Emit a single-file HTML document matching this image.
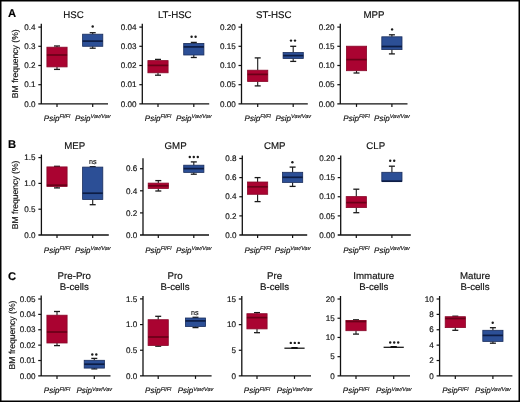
<!DOCTYPE html>
<html><head><meta charset="utf-8"><style>
html,body{margin:0;padding:0;background:#fff;}
#fig{position:relative;width:520px;height:402px;overflow:hidden;background:#fff;}
svg{position:absolute;left:0;top:0;will-change:transform;text-rendering:geometricPrecision;font-family:"Liberation Sans",sans-serif;}
text{stroke:#111;stroke-width:0.16px;}
</style></head><body><div id="fig">
<svg width="520" height="402" viewBox="0 0 520 402">
<rect x="0" y="0" width="520" height="402" fill="#fff"/>
<line x1="41.3" y1="23.8" x2="41.3" y2="103.9" stroke="#111" stroke-width="1.3"/>
<line x1="38.3" y1="103.9" x2="108" y2="103.9" stroke="#111" stroke-width="1.3"/>
<text x="35.5" y="106.6" font-size="8.1" text-anchor="end" fill="#111111">0.0</text>
<line x1="38.3" y1="84.7" x2="41.3" y2="84.7" stroke="#111" stroke-width="1.2"/>
<text x="35.5" y="87.4" font-size="8.1" text-anchor="end" fill="#111111">0.1</text>
<line x1="38.3" y1="65.5" x2="41.3" y2="65.5" stroke="#111" stroke-width="1.2"/>
<text x="35.5" y="68.2" font-size="8.1" text-anchor="end" fill="#111111">0.2</text>
<line x1="38.3" y1="46.3" x2="41.3" y2="46.3" stroke="#111" stroke-width="1.2"/>
<text x="35.5" y="49" font-size="8.1" text-anchor="end" fill="#111111">0.3</text>
<line x1="38.3" y1="27.1" x2="41.3" y2="27.1" stroke="#111" stroke-width="1.2"/>
<text x="35.5" y="29.8" font-size="8.1" text-anchor="end" fill="#111111">0.4</text>
<line x1="57" y1="103.9" x2="57" y2="106.9" stroke="#111" stroke-width="1.2"/>
<line x1="92.7" y1="103.9" x2="92.7" y2="106.9" stroke="#111" stroke-width="1.2"/>
<line x1="57" y1="46" x2="57" y2="47.2" stroke="#1a1a1a" stroke-width="1.1"/>
<line x1="54" y1="46" x2="60" y2="46" stroke="#1a1a1a" stroke-width="1.3"/>
<line x1="57" y1="66.9" x2="57" y2="69.4" stroke="#1a1a1a" stroke-width="1.1"/>
<line x1="54" y1="69.4" x2="60" y2="69.4" stroke="#1a1a1a" stroke-width="1.3"/>
<rect x="46.9" y="47.2" width="20.2" height="19.7" fill="#aa0331" stroke="#880828" stroke-width="0.8"/>
<line x1="46.9" y1="55" x2="67.1" y2="55" stroke="#6a0018" stroke-width="1.7"/>
<line x1="92.7" y1="32.7" x2="92.7" y2="34.2" stroke="#1a1a1a" stroke-width="1.1"/>
<line x1="89.7" y1="32.7" x2="95.7" y2="32.7" stroke="#1a1a1a" stroke-width="1.3"/>
<line x1="92.7" y1="46.3" x2="92.7" y2="48.2" stroke="#1a1a1a" stroke-width="1.1"/>
<line x1="89.7" y1="48.2" x2="95.7" y2="48.2" stroke="#1a1a1a" stroke-width="1.3"/>
<rect x="82.6" y="34.2" width="20.2" height="12.1" fill="#2c4f96" stroke="#1a2d5c" stroke-width="0.8"/>
<line x1="82.6" y1="41.1" x2="102.8" y2="41.1" stroke="#0d1d45" stroke-width="1.7"/>
<circle cx="92.7" cy="26.5" r="1.2" fill="#1a1a1a"/>
<text x="73.6" y="18.4" font-size="9.7" text-anchor="middle" fill="#111111">HSC</text>
<text x="57" y="121" font-size="8.0" font-style="italic" text-anchor="middle" fill="#111111">Psip<tspan font-size="5.5" dy="-2.6">Fl/Fl</tspan></text>
<text x="92.7" y="121" font-size="8.0" font-style="italic" text-anchor="middle" fill="#111111">Psip<tspan font-size="5.5" dy="-2.6">Vav/Vav</tspan></text>
<line x1="142.3" y1="23.8" x2="142.3" y2="103.9" stroke="#111" stroke-width="1.3"/>
<line x1="139.3" y1="103.9" x2="209.2" y2="103.9" stroke="#111" stroke-width="1.3"/>
<text x="136.5" y="106.6" font-size="8.1" text-anchor="end" fill="#111111">0.00</text>
<line x1="139.3" y1="84.7" x2="142.3" y2="84.7" stroke="#111" stroke-width="1.2"/>
<text x="136.5" y="87.4" font-size="8.1" text-anchor="end" fill="#111111">0.01</text>
<line x1="139.3" y1="65.5" x2="142.3" y2="65.5" stroke="#111" stroke-width="1.2"/>
<text x="136.5" y="68.2" font-size="8.1" text-anchor="end" fill="#111111">0.02</text>
<line x1="139.3" y1="46.3" x2="142.3" y2="46.3" stroke="#111" stroke-width="1.2"/>
<text x="136.5" y="49" font-size="8.1" text-anchor="end" fill="#111111">0.03</text>
<line x1="139.3" y1="27.1" x2="142.3" y2="27.1" stroke="#111" stroke-width="1.2"/>
<text x="136.5" y="29.8" font-size="8.1" text-anchor="end" fill="#111111">0.04</text>
<line x1="158" y1="103.9" x2="158" y2="106.9" stroke="#111" stroke-width="1.2"/>
<line x1="193.8" y1="103.9" x2="193.8" y2="106.9" stroke="#111" stroke-width="1.2"/>
<line x1="158" y1="59.4" x2="158" y2="60.6" stroke="#1a1a1a" stroke-width="1.1"/>
<line x1="155" y1="59.4" x2="161" y2="59.4" stroke="#1a1a1a" stroke-width="1.3"/>
<line x1="158" y1="72.8" x2="158" y2="75.2" stroke="#1a1a1a" stroke-width="1.1"/>
<line x1="155" y1="75.2" x2="161" y2="75.2" stroke="#1a1a1a" stroke-width="1.3"/>
<rect x="147.9" y="60.6" width="20.2" height="12.2" fill="#aa0331" stroke="#880828" stroke-width="0.8"/>
<line x1="147.9" y1="65.4" x2="168.1" y2="65.4" stroke="#6a0018" stroke-width="1.7"/>
<line x1="193.8" y1="42.4" x2="193.8" y2="43.4" stroke="#1a1a1a" stroke-width="1.1"/>
<line x1="190.8" y1="42.4" x2="196.8" y2="42.4" stroke="#1a1a1a" stroke-width="1.3"/>
<line x1="193.8" y1="55" x2="193.8" y2="57.5" stroke="#1a1a1a" stroke-width="1.1"/>
<line x1="190.8" y1="57.5" x2="196.8" y2="57.5" stroke="#1a1a1a" stroke-width="1.3"/>
<rect x="183.7" y="43.4" width="20.2" height="11.6" fill="#2c4f96" stroke="#1a2d5c" stroke-width="0.8"/>
<line x1="183.7" y1="46.9" x2="203.9" y2="46.9" stroke="#0d1d45" stroke-width="1.7"/>
<circle cx="191.6" cy="36.8" r="1.2" fill="#1a1a1a"/>
<circle cx="195.6" cy="36.8" r="1.2" fill="#1a1a1a"/>
<text x="174.75" y="18.4" font-size="9.7" text-anchor="middle" fill="#111111">LT-HSC</text>
<text x="158" y="121" font-size="8.0" font-style="italic" text-anchor="middle" fill="#111111">Psip<tspan font-size="5.5" dy="-2.6">Fl/Fl</tspan></text>
<text x="193.8" y="121" font-size="8.0" font-style="italic" text-anchor="middle" fill="#111111">Psip<tspan font-size="5.5" dy="-2.6">Vav/Vav</tspan></text>
<line x1="241.5" y1="23.8" x2="241.5" y2="103.9" stroke="#111" stroke-width="1.3"/>
<line x1="238.5" y1="103.9" x2="307.8" y2="103.9" stroke="#111" stroke-width="1.3"/>
<text x="235.7" y="106.6" font-size="8.1" text-anchor="end" fill="#111111">0.00</text>
<line x1="238.5" y1="84.7" x2="241.5" y2="84.7" stroke="#111" stroke-width="1.2"/>
<text x="235.7" y="87.4" font-size="8.1" text-anchor="end" fill="#111111">0.05</text>
<line x1="238.5" y1="65.5" x2="241.5" y2="65.5" stroke="#111" stroke-width="1.2"/>
<text x="235.7" y="68.2" font-size="8.1" text-anchor="end" fill="#111111">0.10</text>
<line x1="238.5" y1="46.3" x2="241.5" y2="46.3" stroke="#111" stroke-width="1.2"/>
<text x="235.7" y="49" font-size="8.1" text-anchor="end" fill="#111111">0.15</text>
<line x1="238.5" y1="27.1" x2="241.5" y2="27.1" stroke="#111" stroke-width="1.2"/>
<text x="235.7" y="29.8" font-size="8.1" text-anchor="end" fill="#111111">0.20</text>
<line x1="257.7" y1="103.9" x2="257.7" y2="106.9" stroke="#111" stroke-width="1.2"/>
<line x1="293.2" y1="103.9" x2="293.2" y2="106.9" stroke="#111" stroke-width="1.2"/>
<line x1="257.7" y1="57.9" x2="257.7" y2="70.2" stroke="#1a1a1a" stroke-width="1.1"/>
<line x1="254.7" y1="57.9" x2="260.7" y2="57.9" stroke="#1a1a1a" stroke-width="1.3"/>
<line x1="257.7" y1="81.5" x2="257.7" y2="85.9" stroke="#1a1a1a" stroke-width="1.1"/>
<line x1="254.7" y1="85.9" x2="260.7" y2="85.9" stroke="#1a1a1a" stroke-width="1.3"/>
<rect x="247.6" y="70.2" width="20.2" height="11.3" fill="#aa0331" stroke="#880828" stroke-width="0.8"/>
<line x1="247.6" y1="74.4" x2="267.8" y2="74.4" stroke="#6a0018" stroke-width="1.7"/>
<line x1="293.2" y1="46.3" x2="293.2" y2="52.5" stroke="#1a1a1a" stroke-width="1.1"/>
<line x1="290.2" y1="46.3" x2="296.2" y2="46.3" stroke="#1a1a1a" stroke-width="1.3"/>
<line x1="293.2" y1="58.5" x2="293.2" y2="61.4" stroke="#1a1a1a" stroke-width="1.1"/>
<line x1="290.2" y1="61.4" x2="296.2" y2="61.4" stroke="#1a1a1a" stroke-width="1.3"/>
<rect x="283.1" y="52.5" width="20.2" height="6" fill="#2c4f96" stroke="#1a2d5c" stroke-width="0.8"/>
<line x1="283.1" y1="55.6" x2="303.3" y2="55.6" stroke="#0d1d45" stroke-width="1.7"/>
<circle cx="291" cy="40.6" r="1.2" fill="#1a1a1a"/>
<circle cx="295" cy="40.6" r="1.2" fill="#1a1a1a"/>
<text x="273.75" y="18.4" font-size="9.7" text-anchor="middle" fill="#111111">ST-HSC</text>
<text x="257.7" y="121" font-size="8.0" font-style="italic" text-anchor="middle" fill="#111111">Psip<tspan font-size="5.5" dy="-2.6">Fl/Fl</tspan></text>
<text x="293.2" y="121" font-size="8.0" font-style="italic" text-anchor="middle" fill="#111111">Psip<tspan font-size="5.5" dy="-2.6">Vav/Vav</tspan></text>
<line x1="340.3" y1="23.8" x2="340.3" y2="103.9" stroke="#111" stroke-width="1.3"/>
<line x1="337.3" y1="103.9" x2="407.5" y2="103.9" stroke="#111" stroke-width="1.3"/>
<text x="334.5" y="106.6" font-size="8.1" text-anchor="end" fill="#111111">0.00</text>
<line x1="337.3" y1="84.7" x2="340.3" y2="84.7" stroke="#111" stroke-width="1.2"/>
<text x="334.5" y="87.4" font-size="8.1" text-anchor="end" fill="#111111">0.05</text>
<line x1="337.3" y1="65.5" x2="340.3" y2="65.5" stroke="#111" stroke-width="1.2"/>
<text x="334.5" y="68.2" font-size="8.1" text-anchor="end" fill="#111111">0.10</text>
<line x1="337.3" y1="46.3" x2="340.3" y2="46.3" stroke="#111" stroke-width="1.2"/>
<text x="334.5" y="49" font-size="8.1" text-anchor="end" fill="#111111">0.15</text>
<line x1="337.3" y1="27.1" x2="340.3" y2="27.1" stroke="#111" stroke-width="1.2"/>
<text x="334.5" y="29.8" font-size="8.1" text-anchor="end" fill="#111111">0.20</text>
<line x1="356.5" y1="103.9" x2="356.5" y2="106.9" stroke="#111" stroke-width="1.2"/>
<line x1="391.9" y1="103.9" x2="391.9" y2="106.9" stroke="#111" stroke-width="1.2"/>
<line x1="356.5" y1="70.7" x2="356.5" y2="73" stroke="#1a1a1a" stroke-width="1.1"/>
<line x1="353.5" y1="73" x2="359.5" y2="73" stroke="#1a1a1a" stroke-width="1.3"/>
<rect x="346.4" y="46.2" width="20.2" height="24.5" fill="#aa0331" stroke="#880828" stroke-width="0.8"/>
<line x1="346.4" y1="59.6" x2="366.6" y2="59.6" stroke="#6a0018" stroke-width="1.7"/>
<line x1="391.9" y1="34.8" x2="391.9" y2="36.8" stroke="#1a1a1a" stroke-width="1.1"/>
<line x1="388.9" y1="34.8" x2="394.9" y2="34.8" stroke="#1a1a1a" stroke-width="1.3"/>
<line x1="391.9" y1="49.6" x2="391.9" y2="53.9" stroke="#1a1a1a" stroke-width="1.1"/>
<line x1="388.9" y1="53.9" x2="394.9" y2="53.9" stroke="#1a1a1a" stroke-width="1.3"/>
<rect x="381.8" y="36.8" width="20.2" height="12.8" fill="#2c4f96" stroke="#1a2d5c" stroke-width="0.8"/>
<line x1="381.8" y1="46.5" x2="402" y2="46.5" stroke="#0d1d45" stroke-width="1.7"/>
<circle cx="392.1" cy="29.4" r="1.2" fill="#1a1a1a"/>
<text x="374" y="18.4" font-size="9.7" text-anchor="middle" fill="#111111">MPP</text>
<text x="356.5" y="121" font-size="8.0" font-style="italic" text-anchor="middle" fill="#111111">Psip<tspan font-size="5.5" dy="-2.6">Fl/Fl</tspan></text>
<text x="391.9" y="121" font-size="8.0" font-style="italic" text-anchor="middle" fill="#111111">Psip<tspan font-size="5.5" dy="-2.6">Vav/Vav</tspan></text>
<line x1="41.4" y1="154.6" x2="41.4" y2="235" stroke="#111" stroke-width="1.3"/>
<line x1="38.4" y1="235" x2="108.8" y2="235" stroke="#111" stroke-width="1.3"/>
<text x="35.6" y="237.7" font-size="8.1" text-anchor="end" fill="#111111">0.0</text>
<line x1="38.4" y1="209.2" x2="41.4" y2="209.2" stroke="#111" stroke-width="1.2"/>
<text x="35.6" y="211.9" font-size="8.1" text-anchor="end" fill="#111111">0.5</text>
<line x1="38.4" y1="183.4" x2="41.4" y2="183.4" stroke="#111" stroke-width="1.2"/>
<text x="35.6" y="186.1" font-size="8.1" text-anchor="end" fill="#111111">1.0</text>
<line x1="38.4" y1="157.6" x2="41.4" y2="157.6" stroke="#111" stroke-width="1.2"/>
<text x="35.6" y="160.3" font-size="8.1" text-anchor="end" fill="#111111">1.5</text>
<line x1="57" y1="235" x2="57" y2="238" stroke="#111" stroke-width="1.2"/>
<line x1="92.7" y1="235" x2="92.7" y2="238" stroke="#111" stroke-width="1.2"/>
<line x1="57" y1="166.3" x2="57" y2="166.9" stroke="#1a1a1a" stroke-width="1.1"/>
<line x1="54" y1="166.3" x2="60" y2="166.3" stroke="#1a1a1a" stroke-width="1.3"/>
<line x1="57" y1="186.5" x2="57" y2="187.9" stroke="#1a1a1a" stroke-width="1.1"/>
<line x1="54" y1="187.9" x2="60" y2="187.9" stroke="#1a1a1a" stroke-width="1.3"/>
<rect x="46.9" y="166.9" width="20.2" height="19.6" fill="#aa0331" stroke="#880828" stroke-width="0.8"/>
<line x1="46.9" y1="185.2" x2="67.1" y2="185.2" stroke="#6a0018" stroke-width="1.7"/>
<line x1="92.7" y1="166.7" x2="92.7" y2="167.1" stroke="#1a1a1a" stroke-width="1.1"/>
<line x1="89.7" y1="166.7" x2="95.7" y2="166.7" stroke="#1a1a1a" stroke-width="1.3"/>
<line x1="92.7" y1="199.5" x2="92.7" y2="204.7" stroke="#1a1a1a" stroke-width="1.1"/>
<line x1="89.7" y1="204.7" x2="95.7" y2="204.7" stroke="#1a1a1a" stroke-width="1.3"/>
<rect x="82.6" y="167.1" width="20.2" height="32.4" fill="#2c4f96" stroke="#1a2d5c" stroke-width="0.8"/>
<line x1="82.6" y1="193.2" x2="102.8" y2="193.2" stroke="#0d1d45" stroke-width="1.7"/>
<text x="92.7" y="164" font-size="7.2" text-anchor="middle" fill="#111111">ns</text>
<text x="74.75" y="149.2" font-size="9.7" text-anchor="middle" fill="#111111">MEP</text>
<text x="57" y="252.7" font-size="8.0" font-style="italic" text-anchor="middle" fill="#111111">Psip<tspan font-size="5.5" dy="-2.6">Fl/Fl</tspan></text>
<text x="92.7" y="252.7" font-size="8.0" font-style="italic" text-anchor="middle" fill="#111111">Psip<tspan font-size="5.5" dy="-2.6">Vav/Vav</tspan></text>
<line x1="143" y1="158.3" x2="143" y2="235" stroke="#111" stroke-width="1.3"/>
<line x1="140" y1="235" x2="209" y2="235" stroke="#111" stroke-width="1.3"/>
<text x="137.2" y="237.7" font-size="8.1" text-anchor="end" fill="#111111">0.0</text>
<line x1="140" y1="212.9" x2="143" y2="212.9" stroke="#111" stroke-width="1.2"/>
<text x="137.2" y="215.6" font-size="8.1" text-anchor="end" fill="#111111">0.2</text>
<line x1="140" y1="190.8" x2="143" y2="190.8" stroke="#111" stroke-width="1.2"/>
<text x="137.2" y="193.5" font-size="8.1" text-anchor="end" fill="#111111">0.4</text>
<line x1="140" y1="168.7" x2="143" y2="168.7" stroke="#111" stroke-width="1.2"/>
<text x="137.2" y="171.4" font-size="8.1" text-anchor="end" fill="#111111">0.6</text>
<line x1="158.3" y1="235" x2="158.3" y2="238" stroke="#111" stroke-width="1.2"/>
<line x1="193.8" y1="235" x2="193.8" y2="238" stroke="#111" stroke-width="1.2"/>
<line x1="158.3" y1="180.6" x2="158.3" y2="183.1" stroke="#1a1a1a" stroke-width="1.1"/>
<line x1="155.3" y1="180.6" x2="161.3" y2="180.6" stroke="#1a1a1a" stroke-width="1.3"/>
<line x1="158.3" y1="188.5" x2="158.3" y2="191" stroke="#1a1a1a" stroke-width="1.1"/>
<line x1="155.3" y1="191" x2="161.3" y2="191" stroke="#1a1a1a" stroke-width="1.3"/>
<rect x="148.2" y="183.1" width="20.2" height="5.4" fill="#aa0331" stroke="#880828" stroke-width="0.8"/>
<line x1="148.2" y1="185.8" x2="168.4" y2="185.8" stroke="#6a0018" stroke-width="1.7"/>
<line x1="193.8" y1="161.9" x2="193.8" y2="165.2" stroke="#1a1a1a" stroke-width="1.1"/>
<line x1="190.8" y1="161.9" x2="196.8" y2="161.9" stroke="#1a1a1a" stroke-width="1.3"/>
<line x1="193.8" y1="172.4" x2="193.8" y2="174.2" stroke="#1a1a1a" stroke-width="1.1"/>
<line x1="190.8" y1="174.2" x2="196.8" y2="174.2" stroke="#1a1a1a" stroke-width="1.3"/>
<rect x="183.7" y="165.2" width="20.2" height="7.2" fill="#2c4f96" stroke="#1a2d5c" stroke-width="0.8"/>
<line x1="183.7" y1="168.6" x2="203.9" y2="168.6" stroke="#0d1d45" stroke-width="1.7"/>
<circle cx="189.8" cy="157" r="1.2" fill="#1a1a1a"/>
<circle cx="193.8" cy="157" r="1.2" fill="#1a1a1a"/>
<circle cx="197.8" cy="157" r="1.2" fill="#1a1a1a"/>
<text x="175.6" y="149.2" font-size="9.7" text-anchor="middle" fill="#111111">GMP</text>
<text x="158.3" y="252.7" font-size="8.0" font-style="italic" text-anchor="middle" fill="#111111">Psip<tspan font-size="5.5" dy="-2.6">Fl/Fl</tspan></text>
<text x="193.8" y="252.7" font-size="8.0" font-style="italic" text-anchor="middle" fill="#111111">Psip<tspan font-size="5.5" dy="-2.6">Vav/Vav</tspan></text>
<line x1="242.3" y1="155.6" x2="242.3" y2="235" stroke="#111" stroke-width="1.3"/>
<line x1="239.3" y1="235" x2="307.2" y2="235" stroke="#111" stroke-width="1.3"/>
<text x="236.5" y="237.7" font-size="8.1" text-anchor="end" fill="#111111">0.0</text>
<line x1="239.3" y1="215.88" x2="242.3" y2="215.88" stroke="#111" stroke-width="1.2"/>
<text x="236.5" y="218.57" font-size="8.1" text-anchor="end" fill="#111111">0.2</text>
<line x1="239.3" y1="196.75" x2="242.3" y2="196.75" stroke="#111" stroke-width="1.2"/>
<text x="236.5" y="199.45" font-size="8.1" text-anchor="end" fill="#111111">0.4</text>
<line x1="239.3" y1="177.62" x2="242.3" y2="177.62" stroke="#111" stroke-width="1.2"/>
<text x="236.5" y="180.32" font-size="8.1" text-anchor="end" fill="#111111">0.6</text>
<line x1="239.3" y1="158.5" x2="242.3" y2="158.5" stroke="#111" stroke-width="1.2"/>
<text x="236.5" y="161.2" font-size="8.1" text-anchor="end" fill="#111111">0.8</text>
<line x1="257.6" y1="235" x2="257.6" y2="238" stroke="#111" stroke-width="1.2"/>
<line x1="292.6" y1="235" x2="292.6" y2="238" stroke="#111" stroke-width="1.2"/>
<line x1="257.6" y1="177.6" x2="257.6" y2="182" stroke="#1a1a1a" stroke-width="1.1"/>
<line x1="254.6" y1="177.6" x2="260.6" y2="177.6" stroke="#1a1a1a" stroke-width="1.3"/>
<line x1="257.6" y1="194.3" x2="257.6" y2="201.6" stroke="#1a1a1a" stroke-width="1.1"/>
<line x1="254.6" y1="201.6" x2="260.6" y2="201.6" stroke="#1a1a1a" stroke-width="1.3"/>
<rect x="247.5" y="182" width="20.2" height="12.3" fill="#aa0331" stroke="#880828" stroke-width="0.8"/>
<line x1="247.5" y1="186.8" x2="267.7" y2="186.8" stroke="#6a0018" stroke-width="1.7"/>
<line x1="292.6" y1="167.1" x2="292.6" y2="172.3" stroke="#1a1a1a" stroke-width="1.1"/>
<line x1="289.6" y1="167.1" x2="295.6" y2="167.1" stroke="#1a1a1a" stroke-width="1.3"/>
<line x1="292.6" y1="182.4" x2="292.6" y2="186.4" stroke="#1a1a1a" stroke-width="1.1"/>
<line x1="289.6" y1="186.4" x2="295.6" y2="186.4" stroke="#1a1a1a" stroke-width="1.3"/>
<rect x="282.5" y="172.3" width="20.2" height="10.1" fill="#2c4f96" stroke="#1a2d5c" stroke-width="0.8"/>
<line x1="282.5" y1="177.3" x2="302.7" y2="177.3" stroke="#0d1d45" stroke-width="1.7"/>
<circle cx="292.4" cy="162.3" r="1.2" fill="#1a1a1a"/>
<text x="274.7" y="149.2" font-size="9.7" text-anchor="middle" fill="#111111">CMP</text>
<text x="257.6" y="252.7" font-size="8.0" font-style="italic" text-anchor="middle" fill="#111111">Psip<tspan font-size="5.5" dy="-2.6">Fl/Fl</tspan></text>
<text x="292.6" y="252.7" font-size="8.0" font-style="italic" text-anchor="middle" fill="#111111">Psip<tspan font-size="5.5" dy="-2.6">Vav/Vav</tspan></text>
<line x1="340.7" y1="155.6" x2="340.7" y2="235" stroke="#111" stroke-width="1.3"/>
<line x1="337.7" y1="235" x2="410.8" y2="235" stroke="#111" stroke-width="1.3"/>
<text x="334.9" y="237.7" font-size="8.1" text-anchor="end" fill="#111111">0.00</text>
<line x1="337.7" y1="215.88" x2="340.7" y2="215.88" stroke="#111" stroke-width="1.2"/>
<text x="334.9" y="218.57" font-size="8.1" text-anchor="end" fill="#111111">0.05</text>
<line x1="337.7" y1="196.75" x2="340.7" y2="196.75" stroke="#111" stroke-width="1.2"/>
<text x="334.9" y="199.45" font-size="8.1" text-anchor="end" fill="#111111">0.10</text>
<line x1="337.7" y1="177.62" x2="340.7" y2="177.62" stroke="#111" stroke-width="1.2"/>
<text x="334.9" y="180.32" font-size="8.1" text-anchor="end" fill="#111111">0.15</text>
<line x1="337.7" y1="158.5" x2="340.7" y2="158.5" stroke="#111" stroke-width="1.2"/>
<text x="334.9" y="161.2" font-size="8.1" text-anchor="end" fill="#111111">0.20</text>
<line x1="356.3" y1="235" x2="356.3" y2="238" stroke="#111" stroke-width="1.2"/>
<line x1="391.9" y1="235" x2="391.9" y2="238" stroke="#111" stroke-width="1.2"/>
<line x1="356.3" y1="189.2" x2="356.3" y2="196.6" stroke="#1a1a1a" stroke-width="1.1"/>
<line x1="353.3" y1="189.2" x2="359.3" y2="189.2" stroke="#1a1a1a" stroke-width="1.3"/>
<line x1="356.3" y1="207.6" x2="356.3" y2="212.7" stroke="#1a1a1a" stroke-width="1.1"/>
<line x1="353.3" y1="212.7" x2="359.3" y2="212.7" stroke="#1a1a1a" stroke-width="1.3"/>
<rect x="346.2" y="196.6" width="20.2" height="11" fill="#aa0331" stroke="#880828" stroke-width="0.8"/>
<line x1="346.2" y1="202.6" x2="366.4" y2="202.6" stroke="#6a0018" stroke-width="1.7"/>
<line x1="391.9" y1="166.2" x2="391.9" y2="172.3" stroke="#1a1a1a" stroke-width="1.1"/>
<line x1="388.9" y1="166.2" x2="394.9" y2="166.2" stroke="#1a1a1a" stroke-width="1.3"/>
<rect x="381.8" y="172.3" width="20.2" height="9" fill="#2c4f96" stroke="#1a2d5c" stroke-width="0.8"/>
<line x1="381.8" y1="181.2" x2="402" y2="181.2" stroke="#0d1d45" stroke-width="1.7"/>
<circle cx="390.2" cy="160.7" r="1.2" fill="#1a1a1a"/>
<circle cx="394.2" cy="160.7" r="1.2" fill="#1a1a1a"/>
<text x="375.8" y="149.2" font-size="9.7" text-anchor="middle" fill="#111111">CLP</text>
<text x="356.3" y="252.7" font-size="8.0" font-style="italic" text-anchor="middle" fill="#111111">Psip<tspan font-size="5.5" dy="-2.6">Fl/Fl</tspan></text>
<text x="391.9" y="252.7" font-size="8.0" font-style="italic" text-anchor="middle" fill="#111111">Psip<tspan font-size="5.5" dy="-2.6">Vav/Vav</tspan></text>
<line x1="41.2" y1="295.6" x2="41.2" y2="375.9" stroke="#111" stroke-width="1.3"/>
<line x1="38.2" y1="375.9" x2="110.5" y2="375.9" stroke="#111" stroke-width="1.3"/>
<text x="35.4" y="378.6" font-size="8.1" text-anchor="end" fill="#111111">0.00</text>
<line x1="38.2" y1="360.52" x2="41.2" y2="360.52" stroke="#111" stroke-width="1.2"/>
<text x="35.4" y="363.22" font-size="8.1" text-anchor="end" fill="#111111">0.01</text>
<line x1="38.2" y1="345.14" x2="41.2" y2="345.14" stroke="#111" stroke-width="1.2"/>
<text x="35.4" y="347.84" font-size="8.1" text-anchor="end" fill="#111111">0.02</text>
<line x1="38.2" y1="329.76" x2="41.2" y2="329.76" stroke="#111" stroke-width="1.2"/>
<text x="35.4" y="332.46" font-size="8.1" text-anchor="end" fill="#111111">0.03</text>
<line x1="38.2" y1="314.38" x2="41.2" y2="314.38" stroke="#111" stroke-width="1.2"/>
<text x="35.4" y="317.08" font-size="8.1" text-anchor="end" fill="#111111">0.04</text>
<line x1="38.2" y1="299" x2="41.2" y2="299" stroke="#111" stroke-width="1.2"/>
<text x="35.4" y="301.7" font-size="8.1" text-anchor="end" fill="#111111">0.05</text>
<line x1="57" y1="375.9" x2="57" y2="378.9" stroke="#111" stroke-width="1.2"/>
<line x1="94.3" y1="375.9" x2="94.3" y2="378.9" stroke="#111" stroke-width="1.2"/>
<line x1="57" y1="311.5" x2="57" y2="315.2" stroke="#1a1a1a" stroke-width="1.1"/>
<line x1="54" y1="311.5" x2="60" y2="311.5" stroke="#1a1a1a" stroke-width="1.3"/>
<line x1="57" y1="343" x2="57" y2="345.6" stroke="#1a1a1a" stroke-width="1.1"/>
<line x1="54" y1="345.6" x2="60" y2="345.6" stroke="#1a1a1a" stroke-width="1.3"/>
<rect x="46.9" y="315.2" width="20.2" height="27.8" fill="#aa0331" stroke="#880828" stroke-width="0.8"/>
<line x1="46.9" y1="332" x2="67.1" y2="332" stroke="#6a0018" stroke-width="1.7"/>
<line x1="94.3" y1="358.4" x2="94.3" y2="360.3" stroke="#1a1a1a" stroke-width="1.1"/>
<line x1="91.3" y1="358.4" x2="97.3" y2="358.4" stroke="#1a1a1a" stroke-width="1.3"/>
<line x1="94.3" y1="368.1" x2="94.3" y2="368.9" stroke="#1a1a1a" stroke-width="1.1"/>
<line x1="91.3" y1="368.9" x2="97.3" y2="368.9" stroke="#1a1a1a" stroke-width="1.3"/>
<rect x="84.2" y="360.3" width="20.2" height="7.8" fill="#2c4f96" stroke="#1a2d5c" stroke-width="0.8"/>
<line x1="84.2" y1="364.2" x2="104.4" y2="364.2" stroke="#0d1d45" stroke-width="1.7"/>
<circle cx="92.3" cy="354.5" r="1.2" fill="#1a1a1a"/>
<circle cx="96.3" cy="354.5" r="1.2" fill="#1a1a1a"/>
<text x="74.3" y="278.5" font-size="9.7" text-anchor="middle" fill="#111111">Pre-Pro</text>
<text x="74.3" y="289.9" font-size="9.7" text-anchor="middle" fill="#111111">B-cells</text>
<text x="57" y="393.2" font-size="8.0" font-style="italic" text-anchor="middle" fill="#111111">Psip<tspan font-size="5.5" dy="-2.6">Fl/Fl</tspan></text>
<text x="94.3" y="393.2" font-size="8.0" font-style="italic" text-anchor="middle" fill="#111111">Psip<tspan font-size="5.5" dy="-2.6">Vav/Vav</tspan></text>
<line x1="143" y1="296" x2="143" y2="375.9" stroke="#111" stroke-width="1.3"/>
<line x1="140" y1="375.9" x2="211.6" y2="375.9" stroke="#111" stroke-width="1.3"/>
<text x="137.2" y="378.6" font-size="8.1" text-anchor="end" fill="#111111">0.0</text>
<line x1="140" y1="350.23" x2="143" y2="350.23" stroke="#111" stroke-width="1.2"/>
<text x="137.2" y="352.93" font-size="8.1" text-anchor="end" fill="#111111">0.5</text>
<line x1="140" y1="324.57" x2="143" y2="324.57" stroke="#111" stroke-width="1.2"/>
<text x="137.2" y="327.27" font-size="8.1" text-anchor="end" fill="#111111">1.0</text>
<line x1="140" y1="298.9" x2="143" y2="298.9" stroke="#111" stroke-width="1.2"/>
<text x="137.2" y="301.6" font-size="8.1" text-anchor="end" fill="#111111">1.5</text>
<line x1="158.2" y1="375.9" x2="158.2" y2="378.9" stroke="#111" stroke-width="1.2"/>
<line x1="195.5" y1="375.9" x2="195.5" y2="378.9" stroke="#111" stroke-width="1.2"/>
<line x1="158.2" y1="316.3" x2="158.2" y2="319.7" stroke="#1a1a1a" stroke-width="1.1"/>
<line x1="155.2" y1="316.3" x2="161.2" y2="316.3" stroke="#1a1a1a" stroke-width="1.3"/>
<line x1="158.2" y1="345.5" x2="158.2" y2="346.2" stroke="#1a1a1a" stroke-width="1.1"/>
<line x1="155.2" y1="346.2" x2="161.2" y2="346.2" stroke="#1a1a1a" stroke-width="1.3"/>
<rect x="148.1" y="319.7" width="20.2" height="25.8" fill="#aa0331" stroke="#880828" stroke-width="0.8"/>
<line x1="148.1" y1="337" x2="168.3" y2="337" stroke="#6a0018" stroke-width="1.7"/>
<line x1="195.5" y1="317.3" x2="195.5" y2="318" stroke="#1a1a1a" stroke-width="1.1"/>
<line x1="192.5" y1="317.3" x2="198.5" y2="317.3" stroke="#1a1a1a" stroke-width="1.3"/>
<line x1="195.5" y1="326.5" x2="195.5" y2="327.6" stroke="#1a1a1a" stroke-width="1.1"/>
<line x1="192.5" y1="327.6" x2="198.5" y2="327.6" stroke="#1a1a1a" stroke-width="1.3"/>
<rect x="185.4" y="318" width="20.2" height="8.5" fill="#2c4f96" stroke="#1a2d5c" stroke-width="0.8"/>
<line x1="185.4" y1="320.9" x2="205.6" y2="320.9" stroke="#0d1d45" stroke-width="1.7"/>
<text x="194.8" y="314.5" font-size="7.2" text-anchor="middle" fill="#111111">ns</text>
<text x="175" y="278.5" font-size="9.7" text-anchor="middle" fill="#111111">Pro</text>
<text x="175" y="289.9" font-size="9.7" text-anchor="middle" fill="#111111">B-cells</text>
<text x="158.2" y="393.2" font-size="8.0" font-style="italic" text-anchor="middle" fill="#111111">Psip<tspan font-size="5.5" dy="-2.6">Fl/Fl</tspan></text>
<text x="195.5" y="393.2" font-size="8.0" font-style="italic" text-anchor="middle" fill="#111111">Psip<tspan font-size="5.5" dy="-2.6">Vav/Vav</tspan></text>
<line x1="241.8" y1="296" x2="241.8" y2="375.9" stroke="#111" stroke-width="1.3"/>
<line x1="238.8" y1="375.9" x2="311" y2="375.9" stroke="#111" stroke-width="1.3"/>
<text x="236" y="378.6" font-size="8.1" text-anchor="end" fill="#111111">0</text>
<line x1="238.8" y1="350.27" x2="241.8" y2="350.27" stroke="#111" stroke-width="1.2"/>
<text x="236" y="352.97" font-size="8.1" text-anchor="end" fill="#111111">5</text>
<line x1="238.8" y1="324.63" x2="241.8" y2="324.63" stroke="#111" stroke-width="1.2"/>
<text x="236" y="327.33" font-size="8.1" text-anchor="end" fill="#111111">10</text>
<line x1="238.8" y1="299" x2="241.8" y2="299" stroke="#111" stroke-width="1.2"/>
<text x="236" y="301.7" font-size="8.1" text-anchor="end" fill="#111111">15</text>
<line x1="257" y1="375.9" x2="257" y2="378.9" stroke="#111" stroke-width="1.2"/>
<line x1="294.5" y1="375.9" x2="294.5" y2="378.9" stroke="#111" stroke-width="1.2"/>
<line x1="257" y1="312.6" x2="257" y2="313.7" stroke="#1a1a1a" stroke-width="1.1"/>
<line x1="254" y1="312.6" x2="260" y2="312.6" stroke="#1a1a1a" stroke-width="1.3"/>
<line x1="257" y1="328.9" x2="257" y2="332.7" stroke="#1a1a1a" stroke-width="1.1"/>
<line x1="254" y1="332.7" x2="260" y2="332.7" stroke="#1a1a1a" stroke-width="1.3"/>
<rect x="246.9" y="313.7" width="20.2" height="15.2" fill="#aa0331" stroke="#880828" stroke-width="0.8"/>
<line x1="246.9" y1="317.6" x2="267.1" y2="317.6" stroke="#6a0018" stroke-width="1.7"/>
<line x1="284.4" y1="348.2" x2="304.6" y2="348.2" stroke="#111" stroke-width="1.25"/>
<rect x="291.2" y="346.9" width="6.6" height="2.1" rx="0.8" fill="#111"/>
<circle cx="290.8" cy="342.9" r="1.2" fill="#1a1a1a"/>
<circle cx="294.8" cy="342.9" r="1.2" fill="#1a1a1a"/>
<circle cx="298.8" cy="342.9" r="1.2" fill="#1a1a1a"/>
<text x="274.5" y="278.5" font-size="9.7" text-anchor="middle" fill="#111111">Pre</text>
<text x="274.5" y="289.9" font-size="9.7" text-anchor="middle" fill="#111111">B-cells</text>
<text x="257" y="393.2" font-size="8.0" font-style="italic" text-anchor="middle" fill="#111111">Psip<tspan font-size="5.5" dy="-2.6">Fl/Fl</tspan></text>
<text x="294.5" y="393.2" font-size="8.0" font-style="italic" text-anchor="middle" fill="#111111">Psip<tspan font-size="5.5" dy="-2.6">Vav/Vav</tspan></text>
<line x1="340.5" y1="296" x2="340.5" y2="375.9" stroke="#111" stroke-width="1.3"/>
<line x1="337.5" y1="375.9" x2="410" y2="375.9" stroke="#111" stroke-width="1.3"/>
<text x="334.7" y="378.6" font-size="8.1" text-anchor="end" fill="#111111">0</text>
<line x1="337.5" y1="356.67" x2="340.5" y2="356.67" stroke="#111" stroke-width="1.2"/>
<text x="334.7" y="359.37" font-size="8.1" text-anchor="end" fill="#111111">5</text>
<line x1="337.5" y1="337.45" x2="340.5" y2="337.45" stroke="#111" stroke-width="1.2"/>
<text x="334.7" y="340.15" font-size="8.1" text-anchor="end" fill="#111111">10</text>
<line x1="337.5" y1="318.23" x2="340.5" y2="318.23" stroke="#111" stroke-width="1.2"/>
<text x="334.7" y="320.93" font-size="8.1" text-anchor="end" fill="#111111">15</text>
<line x1="337.5" y1="299" x2="340.5" y2="299" stroke="#111" stroke-width="1.2"/>
<text x="334.7" y="301.7" font-size="8.1" text-anchor="end" fill="#111111">20</text>
<line x1="356" y1="375.9" x2="356" y2="378.9" stroke="#111" stroke-width="1.2"/>
<line x1="393.7" y1="375.9" x2="393.7" y2="378.9" stroke="#111" stroke-width="1.2"/>
<line x1="356" y1="319.8" x2="356" y2="320.4" stroke="#1a1a1a" stroke-width="1.1"/>
<line x1="353" y1="319.8" x2="359" y2="319.8" stroke="#1a1a1a" stroke-width="1.3"/>
<line x1="356" y1="330.7" x2="356" y2="334.1" stroke="#1a1a1a" stroke-width="1.1"/>
<line x1="353" y1="334.1" x2="359" y2="334.1" stroke="#1a1a1a" stroke-width="1.3"/>
<rect x="345.9" y="320.4" width="20.2" height="10.3" fill="#aa0331" stroke="#880828" stroke-width="0.8"/>
<line x1="345.9" y1="321.5" x2="366.1" y2="321.5" stroke="#6a0018" stroke-width="1.7"/>
<line x1="383.6" y1="347.3" x2="403.8" y2="347.3" stroke="#111" stroke-width="1.25"/>
<rect x="390.4" y="346" width="6.6" height="2.1" rx="0.8" fill="#111"/>
<circle cx="390.2" cy="342.5" r="1.2" fill="#1a1a1a"/>
<circle cx="394.2" cy="342.5" r="1.2" fill="#1a1a1a"/>
<circle cx="398.2" cy="342.5" r="1.2" fill="#1a1a1a"/>
<text x="373.8" y="278.5" font-size="9.7" text-anchor="middle" fill="#111111">Immature</text>
<text x="373.8" y="289.9" font-size="9.7" text-anchor="middle" fill="#111111">B-cells</text>
<text x="356" y="393.2" font-size="8.0" font-style="italic" text-anchor="middle" fill="#111111">Psip<tspan font-size="5.5" dy="-2.6">Fl/Fl</tspan></text>
<text x="393.7" y="393.2" font-size="8.0" font-style="italic" text-anchor="middle" fill="#111111">Psip<tspan font-size="5.5" dy="-2.6">Vav/Vav</tspan></text>
<line x1="439.6" y1="296" x2="439.6" y2="375.9" stroke="#111" stroke-width="1.3"/>
<line x1="436.6" y1="375.9" x2="512.4" y2="375.9" stroke="#111" stroke-width="1.3"/>
<text x="433.8" y="378.6" font-size="8.1" text-anchor="end" fill="#111111">0</text>
<line x1="436.6" y1="360.52" x2="439.6" y2="360.52" stroke="#111" stroke-width="1.2"/>
<text x="433.8" y="363.22" font-size="8.1" text-anchor="end" fill="#111111">2</text>
<line x1="436.6" y1="345.14" x2="439.6" y2="345.14" stroke="#111" stroke-width="1.2"/>
<text x="433.8" y="347.84" font-size="8.1" text-anchor="end" fill="#111111">4</text>
<line x1="436.6" y1="329.76" x2="439.6" y2="329.76" stroke="#111" stroke-width="1.2"/>
<text x="433.8" y="332.46" font-size="8.1" text-anchor="end" fill="#111111">6</text>
<line x1="436.6" y1="314.38" x2="439.6" y2="314.38" stroke="#111" stroke-width="1.2"/>
<text x="433.8" y="317.08" font-size="8.1" text-anchor="end" fill="#111111">8</text>
<line x1="436.6" y1="299" x2="439.6" y2="299" stroke="#111" stroke-width="1.2"/>
<text x="433.8" y="301.7" font-size="8.1" text-anchor="end" fill="#111111">10</text>
<line x1="455.3" y1="375.9" x2="455.3" y2="378.9" stroke="#111" stroke-width="1.2"/>
<line x1="492.9" y1="375.9" x2="492.9" y2="378.9" stroke="#111" stroke-width="1.2"/>
<line x1="455.3" y1="316.2" x2="455.3" y2="316.7" stroke="#1a1a1a" stroke-width="1.1"/>
<line x1="452.3" y1="316.2" x2="458.3" y2="316.2" stroke="#1a1a1a" stroke-width="1.3"/>
<line x1="455.3" y1="327.6" x2="455.3" y2="330.3" stroke="#1a1a1a" stroke-width="1.1"/>
<line x1="452.3" y1="330.3" x2="458.3" y2="330.3" stroke="#1a1a1a" stroke-width="1.3"/>
<rect x="445.2" y="316.7" width="20.2" height="10.9" fill="#aa0331" stroke="#880828" stroke-width="0.8"/>
<line x1="445.2" y1="318.5" x2="465.4" y2="318.5" stroke="#6a0018" stroke-width="1.7"/>
<line x1="492.9" y1="327.7" x2="492.9" y2="330.3" stroke="#1a1a1a" stroke-width="1.1"/>
<line x1="489.9" y1="327.7" x2="495.9" y2="327.7" stroke="#1a1a1a" stroke-width="1.3"/>
<line x1="492.9" y1="341.4" x2="492.9" y2="343.2" stroke="#1a1a1a" stroke-width="1.1"/>
<line x1="489.9" y1="343.2" x2="495.9" y2="343.2" stroke="#1a1a1a" stroke-width="1.3"/>
<rect x="482.8" y="330.3" width="20.2" height="11.1" fill="#2c4f96" stroke="#1a2d5c" stroke-width="0.8"/>
<line x1="482.8" y1="335.4" x2="503" y2="335.4" stroke="#0d1d45" stroke-width="1.7"/>
<circle cx="492.7" cy="322.8" r="1.2" fill="#1a1a1a"/>
<text x="475" y="278.5" font-size="9.7" text-anchor="middle" fill="#111111">Mature</text>
<text x="475" y="289.9" font-size="9.7" text-anchor="middle" fill="#111111">B-cells</text>
<text x="455.3" y="393.2" font-size="8.0" font-style="italic" text-anchor="middle" fill="#111111">Psip<tspan font-size="5.5" dy="-2.6">Fl/Fl</tspan></text>
<text x="492.9" y="393.2" font-size="8.0" font-style="italic" text-anchor="middle" fill="#111111">Psip<tspan font-size="5.5" dy="-2.6">Vav/Vav</tspan></text>
<text x="8" y="17.2" font-size="11.2" font-weight="bold" fill="#000">A</text>
<text x="0" y="0" transform="translate(18.3 63.75) rotate(-90)" font-size="8.6" text-anchor="middle" fill="#111111">BM frequency (%)</text>
<text x="8" y="148.1" font-size="11.2" font-weight="bold" fill="#000">B</text>
<text x="0" y="0" transform="translate(18.3 194.9) rotate(-90)" font-size="8.6" text-anchor="middle" fill="#111111">BM frequency (%)</text>
<text x="8" y="280.2" font-size="11.2" font-weight="bold" fill="#000">C</text>
<text x="0" y="0" transform="translate(14.6 335) rotate(-90)" font-size="8.6" text-anchor="middle" fill="#111111">BM frequency (%)</text>
<rect x="0.75" y="0.75" width="518.5" height="400.5" fill="none" stroke="#000" stroke-width="1.5"/>
</svg></div></body></html>
